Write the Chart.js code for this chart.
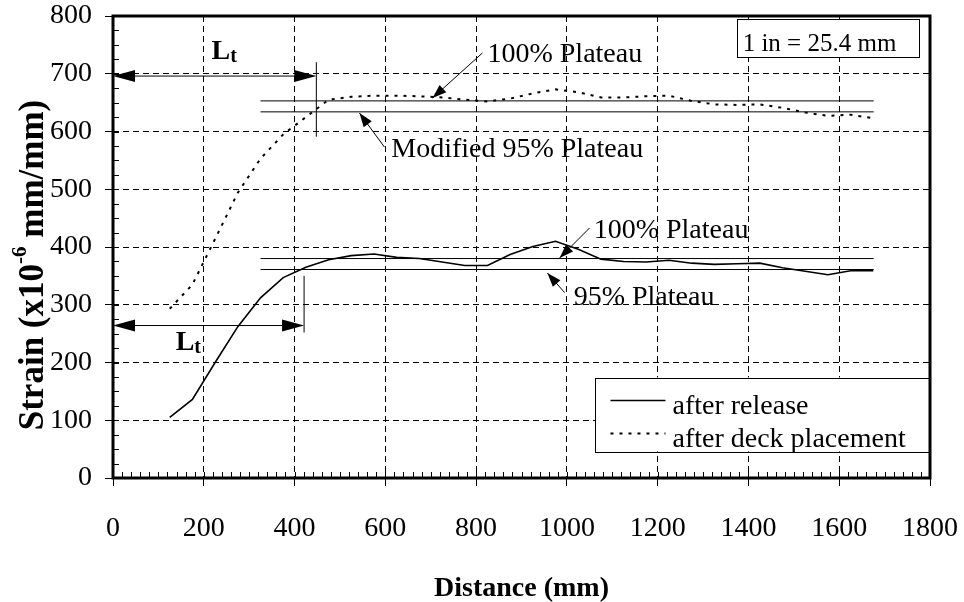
<!DOCTYPE html>
<html>
<head>
<meta charset="utf-8">
<script src="https://cdn.jsdelivr.net/npm/chart.js@4.4.1/dist/chart.umd.min.js"></script>
<style>
  html, body { margin: 0; padding: 0; background: #fff; }
  #wrap { width: 964px; height: 602px; }
</style>
</head>
<body>
<div id="wrap"><canvas id="chart" width="964" height="602"></canvas></div>
<script>
const serif = "'Liberation Serif', 'Times New Roman', serif";

// gauge positions along the member (mm)
const distance = [125, 175, 225, 275, 325, 375, 425, 475, 525, 575, 625, 675, 725, 775, 825, 875,
                  925, 975, 1025, 1075, 1125, 1175, 1225, 1275, 1325, 1375, 1425, 1475, 1525, 1575, 1625, 1675];
// strain x10^-6
const afterRelease = [105, 136, 200, 262, 312, 347, 365, 378, 385, 388, 382, 380, 374, 368, 368, 387,
                      401, 410, 396, 379, 375, 374, 377, 372, 370, 371, 372, 364, 358, 352, 359, 359];
const afterDeck = [293, 335, 414, 494, 553, 595, 625, 655, 660, 662, 662, 661, 659, 655, 652, 657,
                   666, 673, 668, 659, 659, 661, 662, 653, 647, 646, 647, 641, 633, 627, 629, 623];

// plateau levels
const plateauFrom = 325;
const plateauTo = 1676;
const releasePlateau = [380, 361];   // 100%, 95%
const deckPlateau = [653, 634];      // 100%, modified 95%

const xMax = 1800, xStep = 200;
const yMax = 800, yStep = 100;

function points(xs, ys) {
    return xs.map((x, i) => ({x: x, y: ys[i]}));
}

function plateauLine(level) {
    return {
        data: [{x: plateauFrom, y: level}, {x: plateauTo, y: level}],
        borderColor: '#000',
        borderWidth: 1,
        pointRadius: 0,
        showLine: true,
        fill: false
    };
}

// annotation placement (data units)
const transferMarks = [
    {y: 696, xEnd: 448, tickTop: 720, tickBottom: 591, labelX: 217, labelY: 725},
    {y: 264, xEnd: 421, tickTop: 350, tickBottom: 252, labelX: 138, labelY: 222}
];
const callouts = [
    {text: '100% Plateau', tx: 825, ty: 720, from: [814, 736], to: [704, 658]},
    {text: 'Modified 95% Plateau', tx: 613, ty: 556, from: [598, 573], to: [543, 632]},
    {text: '100% Plateau', tx: 1059, ty: 416, from: [1050, 433], to: [984, 381]},
    {text: '95% Plateau', tx: 1015, ty: 300, from: [995, 321], to: [957, 355]}
];

function arrowHead(ctx, x0, y0, x1, y1, len, half) {
    const a = Math.atan2(y1 - y0, x1 - x0);
    const c = Math.cos(a), s = Math.sin(a);
    ctx.beginPath();
    ctx.moveTo(x1, y1);
    ctx.lineTo(x1 - len * c + half * s, y1 - len * s - half * c);
    ctx.lineTo(x1 - len * c - half * s, y1 - len * s + half * c);
    ctx.closePath();
    ctx.fill();
}

const decor = {
    id: 'decor',
    afterDraw(chart) {
        const ctx = chart.ctx;
        const area = chart.chartArea;
        const sx = chart.scales.x, sy = chart.scales.y;
        const px = v => sx.getPixelForValue(v);
        const py = v => sy.getPixelForValue(v);

        ctx.save();
        ctx.strokeStyle = '#000';
        ctx.fillStyle = '#000';
        ctx.setLineDash([]);

        // minor ticks, inside
        ctx.lineWidth = 1;
        ctx.beginPath();
        for (let v = 0; v <= xMax; v += 20) {
            const x = Math.round(px(v)) + 0.5;
            ctx.moveTo(x, area.bottom);
            ctx.lineTo(x, area.bottom - 6);
        }
        for (let v = 0; v <= yMax; v += 25) {
            const y = Math.round(py(v)) + 0.5;
            ctx.moveTo(area.left, y);
            ctx.lineTo(area.left + 6, y);
        }
        ctx.stroke();

        // transfer length markers
        transferMarks.forEach(m => {
            const y = py(m.y), x0 = px(0), x1 = px(m.xEnd);
            ctx.lineWidth = 1;
            ctx.beginPath();
            ctx.moveTo(x0 + 20, y);
            ctx.lineTo(x1 - 20, y);
            ctx.moveTo(x1, py(m.tickTop));
            ctx.lineTo(x1, py(m.tickBottom));
            ctx.stroke();
            arrowHead(ctx, x1, y, x0, y, 22, 6);
            arrowHead(ctx, x0, y, x1, y, 22, 6);
            ctx.font = 'bold 28px ' + serif;
            ctx.textBaseline = 'alphabetic';
            ctx.textAlign = 'left';
            const lx = px(m.labelX), ly = py(m.labelY);
            ctx.fillText('L', lx, ly);
            const w = ctx.measureText('L').width;
            ctx.font = 'bold 20px ' + serif;
            ctx.fillText('t', lx + w, ly + 3);
        });

        // plateau callouts
        callouts.forEach(c => {
            const fx = px(c.from[0]), fy = py(c.from[1]);
            const tx = px(c.to[0]), ty = py(c.to[1]);
            ctx.lineWidth = 1;
            ctx.beginPath();
            ctx.moveTo(fx, fy);
            ctx.lineTo(tx, ty);
            ctx.stroke();
            arrowHead(ctx, fx, fy, tx, ty, 14, 5);
            ctx.font = '28px ' + serif;
            ctx.textAlign = 'left';
            ctx.textBaseline = 'alphabetic';
            ctx.fillText(c.text, px(c.tx), py(c.ty));
        });

        // unit note
        const bx0 = px(1374), bx1 = px(1775), by0 = py(795), by1 = py(729);
        ctx.fillStyle = '#fff';
        ctx.fillRect(bx0, by0, bx1 - bx0, by1 - by0);
        ctx.strokeRect(Math.round(bx0) + 0.5, Math.round(by0) + 0.5, Math.round(bx1 - bx0), Math.round(by1 - by0));
        ctx.fillStyle = '#000';
        ctx.font = '25px ' + serif;
        ctx.fillText('1 in = 25.4 mm', bx0 + 6, by1 - 6);

        // legend
        const lx0 = px(1063), lx1 = area.right, ly0 = py(174), ly1 = py(46);
        ctx.fillStyle = '#fff';
        ctx.fillRect(lx0, ly0, lx1 - lx0, ly1 - ly0);
        ctx.strokeRect(Math.round(lx0) + 0.5, Math.round(ly0) + 0.5, Math.round(lx1 - lx0), Math.round(ly1 - ly0));
        ctx.fillStyle = '#000';
        ctx.font = '28px ' + serif;
        const rows = [chart.data.datasets[0], chart.data.datasets[1]];
        rows.forEach((ds, i) => {
            const yLine = ly0 + 23 + i * 33;
            ctx.lineWidth = ds.borderWidth;
            ctx.setLineDash(ds.borderDash || []);
            ctx.beginPath();
            ctx.moveTo(lx0 + 15, yLine);
            ctx.lineTo(lx0 + 70, yLine);
            ctx.stroke();
            ctx.setLineDash([]);
            ctx.fillText(ds.label, lx0 + 77, yLine + 13);
        });

        // frame
        ctx.lineWidth = 3;
        ctx.strokeRect(area.left, area.top, area.right - area.left, area.bottom - area.top);

        // axis titles
        ctx.font = 'bold 28px ' + serif;
        ctx.textAlign = 'center';
        ctx.textBaseline = 'alphabetic';
        ctx.fillText('Distance (mm)', (area.left + area.right) / 2, 596);

        ctx.save();
        ctx.translate(43, 265);
        ctx.rotate(-Math.PI / 2);
        ctx.textAlign = 'left';
        const p1 = 'Strain (x10', sup = '-6', p2 = ' mm/mm)';
        const big = 'bold 35px ' + serif, small = 'bold 21px ' + serif;
        ctx.font = big;
        const w1 = ctx.measureText(p1).width, w3 = ctx.measureText(p2).width;
        ctx.font = small;
        const w2 = ctx.measureText(sup).width;
        let x = -(w1 + w2 + w3) / 2;
        ctx.font = big;
        ctx.fillText(p1, x, 0);
        x += w1;
        ctx.font = small;
        ctx.fillText(sup, x, -17);
        x += w2;
        ctx.font = big;
        ctx.fillText(p2, x, 0);
        ctx.restore();

        ctx.restore();
    }
};

Chart.defaults.font.family = serif;
Chart.defaults.color = '#000';

new Chart(document.getElementById('chart'), {
    type: 'scatter',
    data: {
        datasets: [
            {
                label: 'after release',
                data: points(distance, afterRelease),
                borderColor: '#000',
                borderWidth: 1.6,
                pointRadius: 0,
                showLine: true,
                fill: false
            },
            {
                label: 'after deck placement',
                data: points(distance, afterDeck),
                borderColor: '#000',
                borderWidth: 2,
                borderDash: [3, 6],
                pointRadius: 0,
                showLine: true,
                fill: false
            },
            plateauLine(releasePlateau[0]),
            plateauLine(releasePlateau[1]),
            plateauLine(deckPlateau[0]),
            plateauLine(deckPlateau[1])
        ]
    },
    options: {
        responsive: false,
        animation: false,
        devicePixelRatio: 1,
        layout: {padding: {top: 16, right: 34, left: 0, bottom: 0}},
        plugins: {
            legend: {display: false},
            tooltip: {enabled: false}
        },
        scales: {
            x: {
                type: 'linear',
                min: 0,
                max: xMax,
                afterFit: s => {
                    s.height = 124;
                    s.paddingLeft = 0;
                    s.paddingRight = 0;
                },
                ticks: {
                    stepSize: xStep,
                    padding: 26,
                    font: {size: 28},
                    color: '#000',
                    callback: v => String(v)
                },
                grid: {
                    color: '#000',
                    lineWidth: 1,
                    tickLength: 8,
                    tickColor: '#000',
                    tickBorderDash: [],
                    tickWidth: 1
                },
                border: {display: false, dash: [6, 4]}
            },
            y: {
                type: 'linear',
                min: 0,
                max: yMax,
                afterFit: s => {
                    s.width = 113;
                    s.paddingTop = 0;
                    s.paddingBottom = 0;
                },
                ticks: {
                    stepSize: yStep,
                    padding: 13,
                    font: {size: 28, lineHeight: 1},
                    color: '#000',
                    callback: v => String(v)
                },
                grid: {
                    color: '#000',
                    lineWidth: 1,
                    tickLength: 8,
                    tickColor: '#000',
                    tickBorderDash: [],
                    tickWidth: 1
                },
                border: {display: false, dash: [6, 4]}
            }
        }
    },
    plugins: [decor]
});
</script>
</body>
</html>
